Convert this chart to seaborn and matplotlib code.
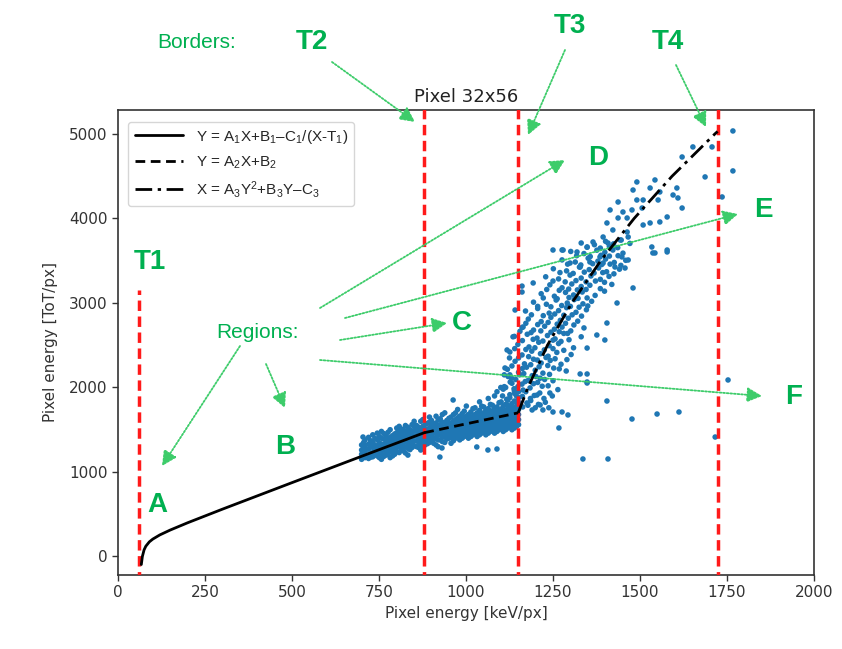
import matplotlib
matplotlib.use("Agg")
import matplotlib.pyplot as plt
import seaborn as sns
import pandas as pd

sns.set_style("ticks")
plt.rcParams["font.family"] = ["DejaVu Sans"]
plt.rcParams["mathtext.fontset"] = "custom"
plt.rcParams["mathtext.rm"] = "Liberation Sans"
plt.rcParams["mathtext.it"] = "Liberation Sans:italic"

W, H = 842, 649

# borders (keV/px)
borders = [60, 880, 1150, 1725]
t1_top = 3150

# fitted curves
curve1_x = [67, 70, 75, 80, 90, 100, 120, 150, 200, 300, 500, 700, 880]
curve1_y = [-95, 0, 79, 122, 173, 206, 255, 313, 399, 560, 874, 1186, 1465]
curve2_x = [880, 1150]
curve2_y = [1465, 1700]
curve3_x = [1150, 1178, 1234, 1304, 1387, 1483, 1592, 1715, 1723]
curve3_y = [1700, 2000, 2500, 3000, 3500, 4000, 4500, 5000, 5030]

# region B/C band: (x, list of y)
lower_band = [
    (700, [1150, 1210, 1260, 1320]), (710, [1170, 1240, 1300, 1380]),
    (720, [1160, 1200, 1270, 1330, 1410]), (732, [1180, 1230, 1290, 1350, 1440]),
    (745, [1190, 1250, 1300, 1380, 1460]), (757, [1150, 1220, 1280, 1330, 1400, 1480]),
    (770, [1200, 1250, 1310, 1370, 1430]), (782, [1170, 1240, 1290, 1350, 1410, 1500]),
    (795, [1210, 1270, 1340, 1390, 1450]), (808, [1230, 1300, 1360, 1420, 1480, 1540]),
    (820, [1250, 1310, 1370, 1430, 1500]), (833, [1200, 1280, 1340, 1400, 1460, 1530]),
    (845, [1290, 1350, 1410, 1470, 1560]), (858, [1300, 1370, 1430, 1490, 1550]),
    (870, [1260, 1330, 1400, 1450, 1510, 1600]), (882, [1320, 1380, 1440, 1500, 1560]),
    (895, [1350, 1410, 1470, 1520, 1590, 1650]), (907, [1340, 1400, 1460, 1510, 1570]),
    (920, [1300, 1380, 1440, 1500, 1550, 1620]), (932, [1360, 1420, 1480, 1530, 1590, 1680]),
    (945, [1390, 1450, 1500, 1550, 1610]), (957, [1340, 1410, 1470, 1530, 1580, 1650]),
    (970, [1400, 1460, 1510, 1560, 1620, 1700]), (982, [1380, 1440, 1500, 1550, 1600, 1660]),
    (995, [1420, 1480, 1540, 1590, 1640, 1720]), (1007, [1400, 1460, 1520, 1570, 1620, 1680]),
    (1020, [1440, 1500, 1560, 1610, 1660, 1750]), (1032, [1420, 1480, 1540, 1600, 1650, 1700]),
    (1045, [1460, 1520, 1580, 1630, 1690, 1780]), (1057, [1440, 1500, 1560, 1620, 1670, 1730]),
    (1070, [1480, 1540, 1600, 1650, 1710, 1800]), (1082, [1460, 1520, 1580, 1640, 1690, 1760, 1900]),
    (1095, [1500, 1560, 1620, 1670, 1730, 1820]), (1107, [1480, 1540, 1600, 1660, 1710, 1780, 1980]),
    (1120, [1520, 1580, 1640, 1690, 1750, 1850]), (1132, [1500, 1560, 1620, 1680, 1740, 1810, 2050]),
    (1145, [1540, 1600, 1660, 1720, 1780, 1900]),
    (706, [1185, 1235, 1285, 1350]), (726, [1175, 1215, 1305, 1370]),
    (738, [1205, 1265, 1320, 1400]), (751, [1170, 1235, 1290, 1345, 1420]),
    (764, [1185, 1265, 1325, 1390, 1455]), (776, [1215, 1280, 1340, 1395, 1470]),
    (789, [1190, 1255, 1315, 1375, 1430]), (801, [1240, 1290, 1350, 1405, 1465, 1520]),
    (814, [1270, 1335, 1390, 1455, 1510]), (826, [1225, 1295, 1360, 1420, 1480, 1550]),
    (839, [1265, 1320, 1380, 1440, 1500]), (851, [1310, 1365, 1425, 1485, 1535, 1600]),
    (864, [1290, 1350, 1415, 1470, 1530]), (876, [1300, 1360, 1420, 1475, 1540, 1620]),
    (889, [1335, 1395, 1455, 1505, 1575]), (901, [1370, 1430, 1490, 1545, 1610]),
    (914, [1320, 1395, 1455, 1525, 1580, 1660]), (926, [1380, 1440, 1495, 1560, 1630]),
    (939, [1350, 1415, 1470, 1525, 1585, 1700]), (951, [1400, 1455, 1515, 1565, 1635]),
    (964, [1370, 1430, 1490, 1545, 1600, 1680]), (976, [1410, 1470, 1525, 1580, 1640, 1740]),
    (989, [1400, 1455, 1515, 1570, 1620, 1690]), (1001, [1440, 1495, 1550, 1605, 1660, 1780]),
    (1014, [1420, 1480, 1535, 1590, 1640, 1710]), (1026, [1460, 1515, 1575, 1625, 1680, 1760]),
    (1039, [1440, 1500, 1560, 1615, 1670, 1730, 1830]), (1051, [1480, 1535, 1595, 1645, 1700, 1770]),
    (1064, [1460, 1520, 1580, 1635, 1690, 1750, 1870]), (1076, [1500, 1560, 1615, 1665, 1725, 1790]),
    (1089, [1480, 1540, 1600, 1655, 1710, 1770, 1950]), (1101, [1520, 1575, 1635, 1690, 1745, 1830]),
    (1114, [1500, 1560, 1620, 1675, 1730, 1800, 2000]), (1126, [1540, 1595, 1655, 1710, 1770, 1880, 2150]),
    (1139, [1520, 1580, 1640, 1700, 1760, 1840, 1960]), (1151, [1560, 1620, 1680, 1740, 1820, 1950]),
]

# region D band
steep_band = [
    (1120, 1790), (1142, 1835), (1163, 1770), (1186, 1845), (1208, 1800), (1238, 1760),
    (1126, 1915), (1151, 1880), (1172, 1950), (1196, 1905), (1224, 1870),
    (1110, 2010), (1138, 1985), (1161, 2040), (1184, 1995), (1206, 2060), (1236, 2020), (1264, 1975),
    (1131, 2110), (1154, 2150), (1179, 2085), (1201, 2130), (1226, 2095),
    (1119, 2215), (1151, 2180), (1174, 2240), (1199, 2205), (1221, 2170), (1252, 2230), (1288, 2195),
    (1141, 2310), (1168, 2280), (1194, 2335), (1216, 2290), (1242, 2320), (1273, 2275),
    (1126, 2420), (1161, 2385), (1189, 2430), (1214, 2400), (1236, 2370), (1261, 2415), (1302, 2390),
    (1149, 2510), (1181, 2480), (1209, 2535), (1239, 2495), (1266, 2520), (1309, 2470),
    (1139, 2605), (1176, 2630), (1204, 2585), (1234, 2615), (1256, 2575), (1281, 2640), (1331, 2600),
    (1161, 2710), (1194, 2680), (1226, 2725), (1254, 2690), (1276, 2715), (1301, 2670), (1339, 2705),
    (1179, 2810), (1216, 2780), (1244, 2830), (1271, 2795), (1294, 2820), (1321, 2785),
    (1171, 2905), (1206, 2935), (1239, 2880), (1266, 2910), (1289, 2945), (1316, 2890), (1346, 2920),
    (1194, 3010), (1231, 2985), (1259, 3035), (1291, 3000), (1311, 3040), (1336, 2990), (1361, 3020),
    (1216, 3110), (1254, 3080), (1286, 3125), (1309, 3095), (1334, 3130), (1371, 3090),
    (1161, 3200), (1241, 3215), (1276, 3180), (1304, 3225), (1331, 3195), (1356, 3210), (1386, 3170), (1419, 3220),
    (1229, 3310), (1266, 3285), (1299, 3330), (1331, 3295), (1359, 3320), (1386, 3280), (1411, 3315),
    (1251, 3405), (1289, 3380), (1326, 3425), (1354, 3395), (1381, 3415), (1404, 3370), (1441, 3400),
    (1276, 3510), (1314, 3485), (1351, 3530), (1379, 3495), (1401, 3520), (1426, 3480), (1459, 3505),
    (1301, 3610), (1339, 3585), (1376, 3625), (1399, 3600), (1421, 3640), (1451, 3590),
    (1331, 3710), (1369, 3690), (1401, 3730), (1424, 3700), (1446, 3745), (1471, 3705),
    (1480, 3178), (1434, 3000), (1405, 2763), (1399, 2562), (1376, 2621), (1348, 2467),
    (1141, 2917), (1164, 2716), (1118, 2444), (1112, 2231), (1161, 3130), (1193, 3237),
    (1250, 3627), (1276, 3627), (1100, 2000), (1110, 2150), (1125, 2350), (1105, 1900),
    (1135, 2600), (1190, 1734), (1175, 1817), (1213, 1793), (1164, 1970), (1204, 1911),
    (1241, 1935), (1221, 1734), (1250, 1710), (1276, 1710), (1293, 1675), (1348, 2053),
    (1132, 1755), (1155, 1815), (1178, 1790), (1199, 1760), (1228, 1825),
    (1117, 1860), (1140, 1930), (1162, 1895), (1185, 1870), (1212, 1935), (1248, 1900),
    (1127, 2065), (1149, 2010), (1170, 2070), (1194, 2045), (1219, 2015), (1250, 2080),
    (1121, 2130), (1143, 2095), (1166, 2165), (1190, 2140), (1213, 2110), (1240, 2155),
    (1132, 2255), (1162, 2225), (1186, 2270), (1210, 2245), (1235, 2260), (1268, 2220),
    (1151, 2350), (1180, 2365), (1205, 2325), (1230, 2355), (1256, 2340), (1290, 2330),
    (1140, 2460), (1172, 2450), (1198, 2470), (1225, 2445), (1250, 2460), (1281, 2440),
    (1162, 2555), (1193, 2570), (1221, 2550), (1250, 2560), (1273, 2545), (1296, 2565),
    (1155, 2665), (1187, 2650), (1215, 2670), (1244, 2655), (1268, 2660), (1292, 2640),
    (1172, 2760), (1206, 2745), (1236, 2770), (1262, 2750), (1286, 2760), (1310, 2740),
    (1188, 2860), (1222, 2850), (1255, 2870), (1281, 2855), (1305, 2860), (1332, 2845),
    (1206, 2960), (1244, 2955), (1275, 2970), (1300, 2960), (1325, 2950), (1350, 2965),
    (1222, 3060), (1262, 3050), (1296, 3065), (1322, 3055), (1348, 3060),
    (1232, 3160), (1268, 3150), (1295, 3165), (1320, 3155), (1345, 3160), (1398, 3140),
    (1250, 3260), (1285, 3250), (1316, 3265), (1345, 3250), (1372, 3260), (1398, 3245),
    (1270, 3360), (1308, 3350), (1340, 3365), (1368, 3355), (1393, 3360), (1425, 3345),
    (1292, 3460), (1330, 3450), (1364, 3465), (1390, 3455), (1414, 3460), (1445, 3445),
    (1318, 3560), (1357, 3550), (1388, 3565), (1412, 3555), (1437, 3560),
    (1348, 3660), (1386, 3650), (1412, 3670), (1436, 3655),
]

# region E cloud
upper_cloud = [
    (1279, 3627), (1319, 3604), (1348, 3663), (1365, 3722), (1405, 3947), (1414, 4101),
    (1437, 4195), (1451, 4077), (1463, 4006), (1477, 4101), (1491, 4219), (1506, 4124),
    (1509, 3923), (1529, 3947), (1534, 3663), (1543, 3592), (1578, 3627), (1578, 4018),
    (1557, 3959), (1529, 4361), (1543, 4456), (1557, 4314), (1595, 4278), (1609, 4243),
    (1621, 4124), (1606, 4361), (1552, 4219), (1509, 4219), (1480, 4337), (1437, 4006),
    (1422, 3864), (1463, 3840), (1466, 3781), (1443, 3746), (1394, 3781), (1408, 3710),
    (1385, 3545), (1422, 3627), (1448, 3545), (1466, 3509), (1457, 3414), (1428, 3426),
    (1394, 3473), (1356, 3485), (1328, 3426), (1299, 3473), (1652, 4847), (1621, 4728),
    (1707, 4847), (1687, 4492), (1767, 5036), (1767, 4563), (1736, 4255), (1491, 4432),
    (1537, 3592), (1578, 3604),
]

stray_points = [
    (1336, 1154), (1408, 1154), (1477, 1627), (1549, 1686), (1612, 1710), (1716, 1414),
    (1405, 1840), (1753, 2089), (1328, 2160), (1348, 2160), (1348, 2065), (1267, 1521),
    (925, 1177), (931, 1284), (1031, 1296), (1063, 1260), (1089, 1272), (963, 1852), (704, 1414),
]

xs, ys = [], []
for x, col in lower_band:
    for y in col:
        xs.append(x)
        ys.append(y)
for x, y in steep_band + upper_cloud + stray_points:
    xs.append(x)
    ys.append(y)
pix = pd.DataFrame({"energy": xs, "tot": ys})

fig = plt.figure(figsize=(W / 100, H / 100), dpi=100)
ax = fig.add_axes([118 / W, 1 - 575 / H, (814 - 118) / W, (575 - 110) / H])

sns.scatterplot(data=pix, x="energy", y="tot", s=16, color="#1f77b4",
                edgecolor="none", ax=ax, zorder=2)

sns.lineplot(x=curve1_x, y=curve1_y, color="black", lw=2, sort=False,
             label="Y = A$_1$X+B$_1$\u2013C$_1$/(X-T$_1$)", ax=ax, zorder=4)
sns.lineplot(x=curve2_x, y=curve2_y, color="black", lw=2, sort=False,
             label="Y = A$_2$X+B$_2$", ax=ax, zorder=4)
sns.lineplot(x=curve3_x, y=curve3_y, color="black", lw=2, sort=False,
             label="X = A$_3$Y$^2$+B$_3$Y\u2013C$_3$", ax=ax, zorder=4)
lines = ax.get_lines()
lines[1].set_linestyle((0, (3.5, 2)))
lines[2].set_linestyle((0, (6, 2, 1.2, 2)))

for i, b in enumerate(borders):
    top = t1_top if i == 0 else 5400
    ax.plot([b, b], [-300, top], color="#ff1a1a", lw=2.5, ls=(0, (3, 1.6)), zorder=3)

ax.set_xlim(0, 2000)
ax.set_ylim(-219, 5284)
ax.set_xticks(range(0, 2001, 250))
ax.set_yticks(range(0, 5001, 1000))
ax.tick_params(labelsize=11, colors="#333333", length=4, width=1)
for sp in ax.spines.values():
    sp.set_color("#333333")
    sp.set_linewidth(1.2)
ax.set_xlabel("Pixel energy [keV/px]", fontsize=11, color="#333333")
ax.set_ylabel("Pixel energy [ToT/px]", fontsize=11, color="#333333", labelpad=8)
ax.set_title("Pixel 32x56", fontsize=13, color="#222222", pad=6)

leg = ax.legend(loc="upper left", bbox_to_anchor=(0.015, 0.975), borderaxespad=0,
                prop={"family": "Liberation Sans", "size": 11}, handlelength=3.2,
                labelspacing=0.55, frameon=True)
leg.get_frame().set_edgecolor("#cccccc")

green = "#00b050"
arrow_green = "#3dcc6a"


def fp(x, y):
    return (x / W, 1 - y / H)


labels_big = [("T1", 150, 262), ("T2", 312, 42), ("T3", 570, 26), ("T4", 668, 42),
              ("A", 157, 505), ("B", 285, 447), ("C", 462, 323), ("D", 598, 158),
              ("E", 763, 210), ("F", 794, 397)]
for t, x, y in labels_big:
    fig.text(*fp(x, y), t, color=green, fontsize=20, fontweight="bold",
             family="Liberation Sans", ha="center", va="center")
fig.text(*fp(197, 42), "Borders:", color=green, fontsize=15, family="Liberation Sans",
         ha="center", va="center")
fig.text(*fp(258, 333), "Regions:", color=green, fontsize=15, family="Liberation Sans",
         ha="center", va="center")

arrows = [((332, 62), (415, 122)), ((565, 50), (528, 135)), ((676, 65), (706, 127)),
          ((240, 346), (162, 466)), ((266, 364), (285, 408)), ((340, 340), (447, 323)),
          ((320, 308), (565, 160)), ((345, 318), (738, 214)), ((320, 360), (762, 396))]
for (x0, y0), (x1, y1) in arrows:
    ax.annotate("", xy=(x1, H - y1), xytext=(x0, H - y0), xycoords="figure pixels",
                textcoords="figure pixels", annotation_clip=False,
                arrowprops=dict(arrowstyle="-|>,head_length=0.9,head_width=0.45",
                                color=arrow_green, lw=1.3, ls=(0, (1, 1)),
                                shrinkA=0, shrinkB=0))

fig.savefig("out.png", dpi=100)
